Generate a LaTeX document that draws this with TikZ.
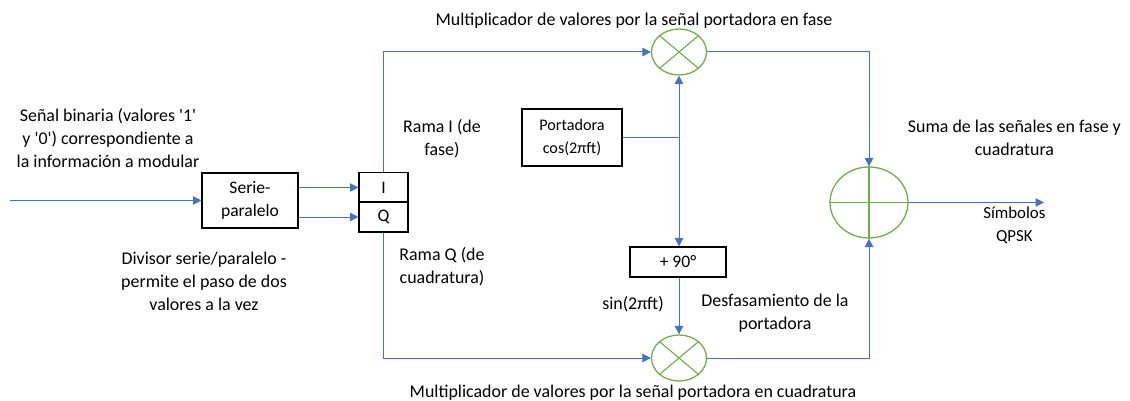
\documentclass[tikz,border=0pt]{standalone}
\usepackage{fontspec}
\setmainfont{Carlito}
\usetikzlibrary{arrows.meta, shapes.geometric}
\definecolor{linkblue}{HTML}{4472C4}
\definecolor{mixgreen}{HTML}{70AD47}

\begin{document}
\begin{tikzpicture}[
    scale = 1,
    >={Triangle[length = 2.1mm, width = 2.1mm]},
    block/.style = {draw,
      rectangle,
      line width = 0.8pt,
      inner sep = 0pt,
      align = center,
      font = \fontsize{12.5}{16.3}\selectfont},
    mixer/.style = {draw = mixgreen,
      ellipse,
      line width = 0.9pt,
      inner sep = 0pt,
      minimum width = {1.375cm},
      minimum height = {1.15cm}},
    adder/.style = {mixer,
      minimum width = {1.95cm},
      minimum height = {1.775cm}},
    label/.style = {align = center,
      inner sep = 0pt,
      font = \fontsize{12.75}{16.3}\selectfont},
    link/.style = {draw = linkblue,
      line width = 0.7pt},
    cross/.style = {draw = mixgreen,
      line width = 0.8pt},
    ]

    \useasboundingbox (0, 0) rectangle (28.25, 10.025);

    \node at (6.25, 5.0125)
    [block, minimum width = {2.4cm}, minimum height = {1.375cm}, name = serial] {Serie-\\paralelo};

    \node at (9.5875, 5.3375)
    [block, minimum width = {1.225cm}, minimum height = {0.75cm}, name = branch_i] {I};
    \node at (9.5875, 4.6)
    [block, minimum width = {1.225cm}, minimum height = {0.75cm}, name = branch_q] {Q};

    \node at (14.3, 6.5875)
    [block, minimum width = {2.5cm}, minimum height = {1.425cm},
      font = \fontsize{11.5}{16.3}\selectfont, name = carrier] {Portadora\\cos(2πft)};

    \node at (16.95, 3.475)
    [block, minimum width = {2.4cm}, minimum height = {0.75cm}, name = shift] {+ 90°};

    \node at (16.975, 8.725) [mixer, name = mix_i] {};
    \node at (16.975, 1.075) [mixer, name = mix_q] {};
    \node at (21.725, 4.9625) [adder, name = sum] {};

    \draw [cross] (mix_i.north west) to (mix_i.south east);
    \draw [cross] (mix_i.north east) to (mix_i.south west);
    \draw [cross] (mix_q.north west) to (mix_q.south east);
    \draw [cross] (mix_q.north east) to (mix_q.south west);
    \draw [cross] (sum.north) to (sum.south);
    \draw [cross, line width = 0.5pt] (sum.west) to (sum.east);

    \coordinate (input) at (0.25, 5.0125);
    \coordinate (output) at (26.1, 4.9625);
    \coordinate (tap) at (mix_i.south |- carrier.east);

    \draw [link, ->] (input) to (serial.west);
    \draw [link, ->] (serial.east |- branch_i.west) to (branch_i.west);
    \draw [link, ->] (serial.east |- branch_q.west) to (branch_q.west);

    \draw [link, ->] (branch_i.north) |- (mix_i.west);
    \draw [link, ->] (branch_q.south) |- (mix_q.west);

    \draw [link, ->] (carrier.east) -| (mix_i.south);
    \draw [link, ->] (tap) to (tap |- shift.north);
    \draw [link, ->] (tap |- shift.south) to (mix_q.north);

    \draw [link, ->] (mix_i.east) -| (sum.north);
    \draw [link, ->] (mix_q.east) -| (sum.south);
    \draw [link, ->] (sum.east) to (output);

    \node at (15.85, 9.5) [label, name = title_i]
    {Multiplicador de valores por la señal portadora en fase};
    \node at (15.825, 0.2) [label, name = title_q]
    {Multiplicador de valores por la señal portadora en cuadratura};

    \node at (2.7, 6.575) [label, name = text_input]
    {Señal binaria (valores \textquotesingle 1\textquotesingle\\y \textquotesingle 0\textquotesingle) correspondiente a\\la información a modular};
    \node at (5.1, 3.0) [label, name = text_divider]
    {Divisor serie/paralelo -\\permite el paso de dos\\valores a la vez};

    \node at (11.05, 6.5625) [label, name = text_rama_i] {Rama I (de\\fase)};
    \node at (11.05, 3.3625) [label, name = text_rama_q] {Rama Q (de\\cuadratura)};

    \node at (15.825, 2.425) [label, name = text_sin] {sin(2πft)};
    \node at (19.375, 2.2) [label, name = text_shift] {Desfasamiento de la\\portadora};

    \node at (25.36, 6.575) [label, name = text_sum]
    {Suma de las señales en fase y\\cuadratura};
    \node at (25.36, 4.4) [label, font = \fontsize{12}{16.3}\selectfont, name = text_symbols]
    {Símbolos\\QPSK};
\end{tikzpicture}
\end{document}
